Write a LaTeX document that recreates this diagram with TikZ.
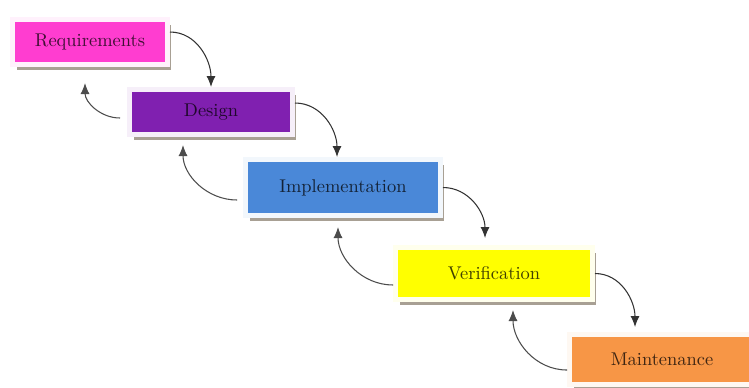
\documentclass[tikz,border=0pt]{standalone}
\usepackage{tikz}
\usetikzlibrary{arrows.meta,shadows}

\definecolor{reqpink}{HTML}{FF3DD0}
\definecolor{despurple}{HTML}{8020B0}
\definecolor{impblue}{HTML}{4A88D8}
\definecolor{veryellow}{HTML}{FFFF00}
\definecolor{mntorange}{HTML}{F79646}
\definecolor{shadowgray}{HTML}{A8A094}

\begin{document}
\begin{tikzpicture}[
  x=0.02cm, y=-0.02cm,
  phase/.style={fill=#1, draw=#1!7, line width=0.1cm, minimum height=0.9cm, inner sep=2pt,
    text=#1!25!black, font=\fontsize{10.5}{12}\selectfont,
    drop shadow={shadow xshift=0.08cm, shadow yshift=-0.11cm, fill=shadowgray, opacity=1}},
  fwd/.style={-{Latex[length=2.2mm,width=1.8mm]}, semithick, black!80},
  back/.style={-{Latex[length=2.2mm,width=1.8mm]}, semithick, black!70}
]
  \useasboundingbox (0,0) rectangle (749,387);

  \node[phase=reqpink, minimum width=3.1cm] (req) at (90,42) {Requirements};
  \node[phase=despurple, minimum width=3.26cm] (design) at (211,112) {Design};
  \node[phase=impblue, minimum width=3.9cm, minimum height=1.12cm] (impl) at (343,187.5) {Implementation};
  \node[phase=veryellow, minimum width=3.94cm, minimum height=1.04cm] (verif) at (494,273.5) {Verification};
  \node[phase=mntorange, minimum width=3.7cm, minimum height=1cm] (maint) at (662,359.5) {Maintenance};

  % forward flow
  \draw[fwd] ([yshift=0.2cm]req.east) to[out=0,in=90] (design.north);
  \draw[fwd] ([yshift=0.18cm]design.east) to[out=0,in=90] ([xshift=-0.12cm]impl.north);
  \draw[fwd] (impl.east) to[out=0,in=90] ([xshift=-0.18cm,yshift=0.14cm]verif.north);
  \draw[fwd] (verif.east) to[out=0,in=90] ([xshift=-0.54cm,yshift=0.1cm]maint.north);

  % feedback
  \draw[back] ([xshift=-0.14cm,yshift=-0.12cm]design.west) to[out=180,in=-90] ([xshift=-0.1cm,yshift=-0.32cm]req.south);
  \draw[back] ([xshift=-0.12cm,yshift=-0.25cm]impl.west) to[out=180,in=-90] ([xshift=-0.56cm,yshift=-0.16cm]design.south);
  \draw[back] ([yshift=-0.23cm]verif.west) to[out=180,in=-90] ([xshift=-0.1cm,yshift=-0.18cm]impl.south);
  \draw[back] ([yshift=-0.21cm]maint.west) to[out=180,in=-90] ([xshift=0.38cm,yshift=-0.16cm]verif.south);
\end{tikzpicture}
\end{document}
